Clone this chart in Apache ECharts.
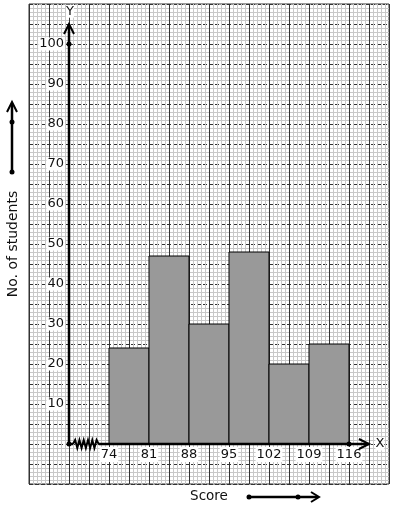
<!DOCTYPE html>
<html>
<head>
<meta charset="utf-8">
<script src="https://cdn.jsdelivr.net/npm/echarts@6/dist/echarts.min.js"></script>
<style>
html,body{margin:0;padding:0;background:#fff;}
#chart{width:394px;height:510px;}
</style>
</head>
<body>
<div id="chart"></div>
<script>
// class boundaries (score) and frequencies
const classStarts = [74, 81, 88, 95, 102, 109];
const classEnds   = [81, 88, 95, 102, 109, 116];
const students    = [24, 47, 30, 48, 20, 25];
const xTickLabels = [74, 81, 88, 95, 102, 109, 116];
const yTickLabels = [10, 20, 30, 40, 50, 60, 70, 80, 90, 100];

const FONT = 'DejaVu Sans';
const INK = '#111';

const barData = classStarts.map((s, i) => [s, classEnds[i], students[i]]);

const chart = echarts.init(document.getElementById('chart'), null, {renderer: 'canvas'});

function renderBar(params, api) {
  const p0 = api.coord([api.value(0), 0]);
  const p1 = api.coord([api.value(1), api.value(2)]);
  return {
    type: 'rect',
    shape: {x: p0[0], y: p1[1], width: p1[0] - p0[0], height: p0[1] - p1[1]},
    style: {fill: '#999999', stroke: '#000', lineWidth: 1}
  };
}

// axis decorations drawn via scales (origin at score 67, value 0)
function renderAxes(params, api) {
  const o = api.coord([67, 0]);
  const yTop = api.coord([67, 105]);
  const xEnd = api.coord([119.5, 0]);
  const p100 = api.coord([67, 100]);
  const p116 = api.coord([116, 0]);
  const zStart = api.coord([67.7, 0]);
  const zEnd = api.coord([72.2, 0]);
  const lw = 2.5;
  const children = [];
  children.push({type: 'line', shape: {x1: o[0], y1: o[1], x2: yTop[0], y2: yTop[1]}, style: {stroke: '#000', lineWidth: lw}});
  children.push({type: 'polyline', shape: {points: [[yTop[0] - 5, yTop[1] + 10], [yTop[0], yTop[1]], [yTop[0] + 5, yTop[1] + 10]]}, style: {stroke: '#000', lineWidth: 2, fill: null}});
  children.push({type: 'line', shape: {x1: zEnd[0], y1: o[1], x2: xEnd[0], y2: xEnd[1]}, style: {stroke: '#000', lineWidth: lw}});
  children.push({type: 'line', shape: {x1: o[0], y1: o[1], x2: zStart[0], y2: o[1]}, style: {stroke: '#000', lineWidth: lw}});
  children.push({type: 'polyline', shape: {points: [[xEnd[0] - 10, xEnd[1] - 5], [xEnd[0], xEnd[1]], [xEnd[0] - 10, xEnd[1] + 5]]}, style: {stroke: '#000', lineWidth: 2, fill: null}});
  // zigzag (broken axis)
  const pts = [];
  const n = 12;
  for (let i = 0; i <= n; i++) {
    const x = zStart[0] + (zEnd[0] - zStart[0]) * i / n;
    const dy = i === 0 || i === n ? 0 : (i % 2 ? -4 : 4);
    pts.push([x, o[1] + dy]);
  }
  children.push({type: 'polyline', shape: {points: pts}, style: {stroke: '#000', lineWidth: 2, fill: null}});
  [o, p100, p116].forEach(p => children.push({type: 'circle', shape: {cx: p[0], cy: p[1], r: 2.5}, style: {fill: '#000'}}));
  const yl = api.coord([67, 108.2]);
  const xl = api.coord([121.4, 0]);
  children.push({type: 'text', x: yl[0] + 1, y: yl[1], style: {text: 'Y', fill: INK, font: '13px ' + FONT, align: 'center', verticalAlign: 'middle', backgroundColor: '#fff'}});
  children.push({type: 'text', x: xl[0], y: xl[1], style: {text: 'X', fill: INK, font: '13px ' + FONT, align: 'center', verticalAlign: 'middle', backgroundColor: '#fff'}});
  return {type: 'group', children: children};
}

chart.setOption({
  animation: false,
  backgroundColor: '#fff',
  grid: {left: 29, top: 4, width: 360, height: 480, show: true, borderColor: '#333', borderWidth: 1,
         backgroundColor: '#fff', containLabel: false, outerBoundsMode: 'none'},
  xAxis: [
    {
      type: 'value', min: 0, max: 18, interval: 1, position: 'bottom',
      axisLine: {show: false}, axisTick: {show: false}, axisLabel: {show: false},
      splitLine: {show: true, lineStyle: {color: '#333', width: 1}},
      minorTick: {show: false, splitNumber: 5},
      minorSplitLine: {show: true, lineStyle: {color: '#c8c8c8', width: 1}}
    },
    {
      type: 'value', min: 60, max: 123, position: 'bottom',
      axisLine: {show: false}, axisTick: {show: false}, splitLine: {show: false},
      axisLabel: {
        customValues: xTickLabels, margin: -37,
        color: INK, fontFamily: FONT, fontSize: 13,
        backgroundColor: '#fff', padding: [1, 1]
      },
      name: 'Score', nameLocation: 'middle', nameGap: 5,
      nameTextStyle: {color: INK, fontFamily: FONT, fontSize: 13.5}
    }
  ],
  yAxis: [
    {
      type: 'value', min: -10, max: 110, interval: 5,
      axisLine: {show: false}, axisTick: {show: false},
      splitLine: {show: true, lineStyle: {color: '#333', width: 1, type: [4, 2]}},
      minorTick: {show: false, splitNumber: 5},
      minorSplitLine: {show: true, lineStyle: {color: '#c8c8c8', width: 1}},
      axisLabel: {
        customValues: yTickLabels, margin: -36,
        color: INK, fontFamily: FONT, fontSize: 13,
        backgroundColor: '#fff', padding: [0, 1]
      },
      name: 'No. of students', nameLocation: 'middle', nameGap: 9, nameRotate: 90,
      nameTextStyle: {color: INK, fontFamily: FONT, fontSize: 14}
    }
  ],
  series: [
    {
      type: 'custom', xAxisIndex: 1, yAxisIndex: 0, z: 3,
      data: barData, renderItem: renderBar,
      encode: {x: [0, 1], y: 2}
    },
    {
      type: 'custom', xAxisIndex: 1, yAxisIndex: 0, z: 5, clip: false, silent: true,
      data: [[67, 0]], renderItem: renderAxes
    }
  ],
  graphic: [
    {type: 'line', shape: {x1: 12, y1: 172, x2: 12, y2: 104}, style: {stroke: '#000', lineWidth: 2.5}},
    {type: 'polyline', shape: {points: [[7, 112], [12, 102], [17, 112]]}, style: {stroke: '#000', lineWidth: 2, fill: null}},
    {type: 'circle', shape: {cx: 12, cy: 122, r: 2.5}, style: {fill: '#000'}},
    {type: 'circle', shape: {cx: 12, cy: 172, r: 2.5}, style: {fill: '#000'}},
    {type: 'line', shape: {x1: 249, y1: 497, x2: 318, y2: 497}, style: {stroke: '#000', lineWidth: 2.5}},
    {type: 'polyline', shape: {points: [[311, 492], [319, 497], [311, 502]]}, style: {stroke: '#000', lineWidth: 2, fill: null}},
    {type: 'circle', shape: {cx: 249, cy: 497, r: 2.5}, style: {fill: '#000'}},
    {type: 'circle', shape: {cx: 298, cy: 497, r: 2.5}, style: {fill: '#000'}}
  ]
});
</script>
</body>
</html>
